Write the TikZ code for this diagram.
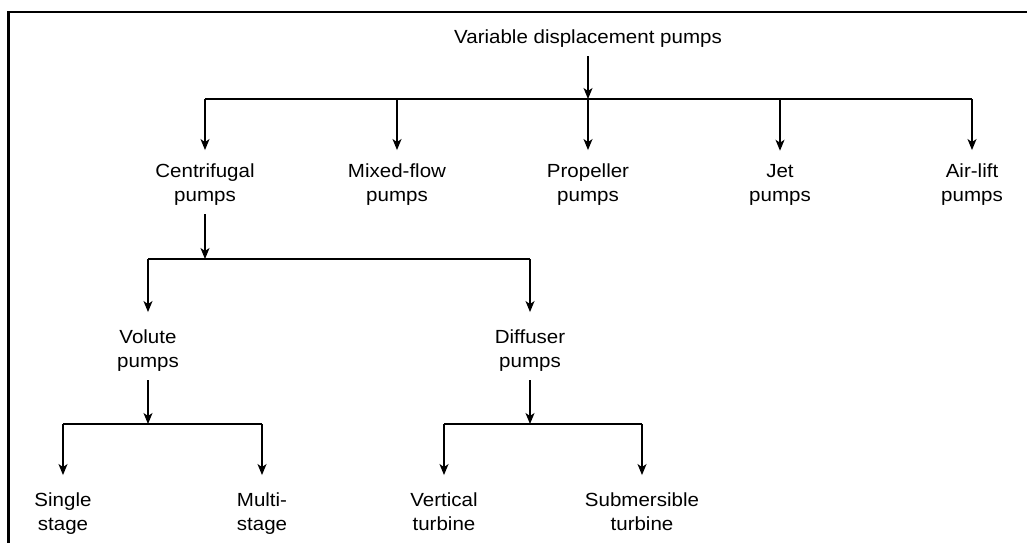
\documentclass[tikz,border=0pt]{standalone}
\usepackage{fontspec}
\setmainfont{Liberation Sans}[FakeStretch=1.08]
\usetikzlibrary{arrows.meta}
\begin{document}
\begin{tikzpicture}[x=1pt,y=-1pt,
  lbl/.style={font=\fontsize{19}{24}\selectfont, align=center, inner sep=0pt, anchor=base},
  conn/.style={line width=1.3pt},
  arr/.style={conn, -{Stealth[length=11pt,width=9pt,inset=3pt]}, shorten <=9pt},
  frame/.style={line width=2.5pt}]
\useasboundingbox (0,0) rectangle (1027,542);
\draw[frame] (8.5,545) -- (8.5,12) -- (1030,12);
% nodes (base anchor = baseline of last line)
\node[lbl] (title) at (588,43) {Variable displacement pumps};
\node[lbl] (cen) at (205,201) {Centrifugal\\pumps};
\node[lbl] (mix) at (397,201) {Mixed-flow\\pumps};
\node[lbl] (pro) at (588,201) {Propeller\\pumps};
\node[lbl] (jet) at (780,201) {Jet\\pumps};
\node[lbl] (air) at (972,201) {Air-lift\\pumps};
\node[lbl] (vol) at (148,367) {Volute\\pumps};
\node[lbl] (dif) at (530,367) {Diffuser\\pumps};
\node[lbl] (sin) at (63,530) {Single\\stage};
\node[lbl] (mul) at (262,530) {Multi-\\stage};
\node[lbl] (ver) at (444,530) {Vertical\\turbine};
\node[lbl] (sub) at (642,530) {Submersible\\turbine};
% bus coordinates
\coordinate (b1) at (588,99);
\coordinate (b2) at (205,259);
\coordinate (b3) at (148,424);
\coordinate (b4) at (530,424);
% level 1
\draw[arr] (title.south) -- (b1);
\draw[conn] (b1 -| cen) -- (b1 -| air);
\foreach \n in {cen,mix,pro,jet,air}
  \draw[arr, shorten <=0pt, shorten >=13pt] (b1 -| \n) -- (\n.north);
% level 2
\draw[arr] (cen.south) -- (b2);
\draw[conn] (b2 -| vol) -- (b2 -| dif);
\foreach \n in {vol,dif}
  \draw[arr, shorten <=0pt, shorten >=17pt] (b2 -| \n) -- (\n.north);
% level 3
\draw[arr] (vol.south) -- (b3);
\draw[arr] (dif.south) -- (b4);
\draw[conn] (b3 -| sin) -- (b3 -| mul);
\draw[conn] (b4 -| ver) -- (b4 -| sub);
\foreach \n in {sin,mul}
  \draw[arr, shorten <=0pt, shorten >=17pt] (b3 -| \n) -- (\n.north);
\foreach \n in {ver,sub}
  \draw[arr, shorten <=0pt, shorten >=17pt] (b4 -| \n) -- (\n.north);
\end{tikzpicture}
\end{document}
